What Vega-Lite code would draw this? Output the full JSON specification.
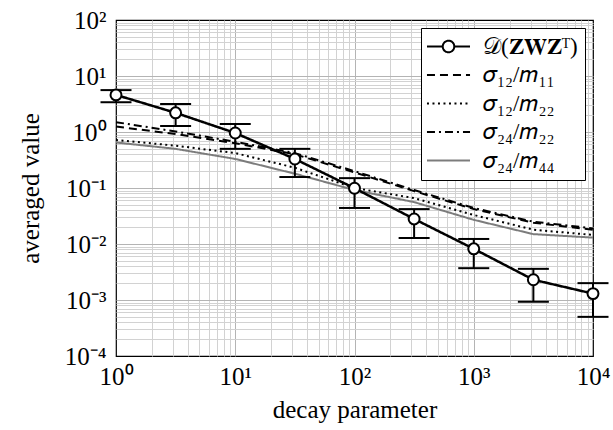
{
  "$schema": "https://vega.github.io/schema/vega-lite/v6.json",
  "width": 477,
  "height": 336,
  "autosize": "none",
  "padding": {"left": 116, "top": 20, "right": 20, "bottom": 74},
  "background": "white",
  "config": {
    "font": "Liberation Serif",
    "view": {"stroke": "black", "strokeWidth": 1.2},
    "axis": {
      "labelFont": "Liberation Serif",
      "titleFont": "Liberation Serif",
      "labelFontSize": 25,
      "titleFontSize": 25,
      "titleFontWeight": "normal",
      "labelColor": "black",
      "titleColor": "black",
      "ticks": false,
      "domain": false,
      "labelOverlap": false,
      "labelFlush": false,
      "gridWidth": 1
    },
    "legend": {
      "title": null,
      "orient": "top-right",
      "offset": 8,
      "padding": 7,
      "rowPadding": 4.5,
      "labelFont": "Liberation Serif",
      "labelFontSize": 23,
      "labelColor": "black",
      "labelLimit": 0,
      "symbolType": "M-2.05,0H2.05",
      "symbolSize": 441,
      "symbolStrokeWidth": 2,
      "symbolOffset": 9,
      "labelOffset": 23,
      "strokeColor": "black",
      "fillColor": "white",
      "cornerRadius": 0
    }
  },
  "datasets": {
    "curves": [
      {"x": 1, "series": "𝜎₁₂/𝑚₁₁", "y": 1.25},
      {"x": 3.162, "series": "𝜎₁₂/𝑚₁₁", "y": 0.92},
      {"x": 10, "series": "𝜎₁₂/𝑚₁₁", "y": 0.63},
      {"x": 31.62, "series": "𝜎₁₂/𝑚₁₁", "y": 0.4},
      {"x": 100, "series": "𝜎₁₂/𝑚₁₁", "y": 0.19},
      {"x": 316.2, "series": "𝜎₁₂/𝑚₁₁", "y": 0.088},
      {"x": 1000, "series": "𝜎₁₂/𝑚₁₁", "y": 0.042},
      {"x": 3162, "series": "𝜎₁₂/𝑚₁₁", "y": 0.024},
      {"x": 10000, "series": "𝜎₁₂/𝑚₁₁", "y": 0.018},
      {"x": 1, "series": "𝜎₁₂/𝑚₂₂", "y": 0.72},
      {"x": 3.162, "series": "𝜎₁₂/𝑚₂₂", "y": 0.57},
      {"x": 10, "series": "𝜎₁₂/𝑚₂₂", "y": 0.42},
      {"x": 31.62, "series": "𝜎₁₂/𝑚₂₂", "y": 0.23},
      {"x": 100, "series": "𝜎₁₂/𝑚₂₂", "y": 0.1},
      {"x": 316.2, "series": "𝜎₁₂/𝑚₂₂", "y": 0.066},
      {"x": 1000, "series": "𝜎₁₂/𝑚₂₂", "y": 0.033},
      {"x": 3162, "series": "𝜎₁₂/𝑚₂₂", "y": 0.018},
      {"x": 10000, "series": "𝜎₁₂/𝑚₂₂", "y": 0.0145},
      {"x": 1, "series": "𝜎₂₄/𝑚₂₂", "y": 1.5},
      {"x": 3.162, "series": "𝜎₂₄/𝑚₂₂", "y": 1.02},
      {"x": 10, "series": "𝜎₂₄/𝑚₂₂", "y": 0.67},
      {"x": 31.62, "series": "𝜎₂₄/𝑚₂₂", "y": 0.42},
      {"x": 100, "series": "𝜎₂₄/𝑚₂₂", "y": 0.2},
      {"x": 316.2, "series": "𝜎₂₄/𝑚₂₂", "y": 0.092},
      {"x": 1000, "series": "𝜎₂₄/𝑚₂₂", "y": 0.044},
      {"x": 3162, "series": "𝜎₂₄/𝑚₂₂", "y": 0.025},
      {"x": 10000, "series": "𝜎₂₄/𝑚₂₂", "y": 0.019},
      {"x": 1, "series": "𝜎₂₄/𝑚₄₄", "y": 0.65},
      {"x": 3.162, "series": "𝜎₂₄/𝑚₄₄", "y": 0.5},
      {"x": 10, "series": "𝜎₂₄/𝑚₄₄", "y": 0.33},
      {"x": 31.62, "series": "𝜎₂₄/𝑚₄₄", "y": 0.18},
      {"x": 100, "series": "𝜎₂₄/𝑚₄₄", "y": 0.092},
      {"x": 316.2, "series": "𝜎₂₄/𝑚₄₄", "y": 0.056},
      {"x": 1000, "series": "𝜎₂₄/𝑚₄₄", "y": 0.027},
      {"x": 3162, "series": "𝜎₂₄/𝑚₄₄", "y": 0.015},
      {"x": 10000, "series": "𝜎₂₄/𝑚₄₄", "y": 0.013}
    ],
    "dpts": [
      {"x": 1, "series": "𝒟(𝐙𝐖𝐙ᵀ)", "y": 4.6, "lo": 3.4, "hi": 5.6},
      {"x": 3.162, "series": "𝒟(𝐙𝐖𝐙ᵀ)", "y": 2.2, "lo": 1.28, "hi": 3.16},
      {"x": 10, "series": "𝒟(𝐙𝐖𝐙ᵀ)", "y": 0.96, "lo": 0.5, "hi": 1.39},
      {"x": 31.62, "series": "𝒟(𝐙𝐖𝐙ᵀ)", "y": 0.33, "lo": 0.157, "hi": 0.5},
      {"x": 100, "series": "𝒟(𝐙𝐖𝐙ᵀ)", "y": 0.099, "lo": 0.044, "hi": 0.15},
      {"x": 316.2, "series": "𝒟(𝐙𝐖𝐙ᵀ)", "y": 0.028, "lo": 0.0128, "hi": 0.042},
      {"x": 1000, "series": "𝒟(𝐙𝐖𝐙ᵀ)", "y": 0.0082, "lo": 0.0037, "hi": 0.0123},
      {"x": 3162, "series": "𝒟(𝐙𝐖𝐙ᵀ)", "y": 0.0023, "lo": 0.00093, "hi": 0.0036},
      {"x": 10000, "series": "𝒟(𝐙𝐖𝐙ᵀ)", "y": 0.0013, "lo": 0.0005, "hi": 0.002}
    ]
  },
  "encoding": {
    "x": {
      "field": "x",
      "type": "quantitative",
      "scale": {"type": "log", "domain": [1, 10000], "nice": false},
      "axis": {
        "title": "decay parameter",
        "values": [1, 2, 3, 4, 5, 6, 7, 8, 9, 10, 20, 30, 40, 50, 60, 70, 80, 90, 100, 200, 300, 400, 500, 600, 700, 800, 900, 1000, 2000, 3000, 4000, 5000, 6000, 7000, 8000, 9000, 10000],
        "labelExpr": "abs(log(datum.value)/LN10 - round(log(datum.value)/LN10)) < 0.001 ? '10' + ['⁰','¹','²','³','⁴'][round(log(datum.value)/LN10)] : ''",
        "labelPadding": 8,
        "titlePadding": 8,
        "gridColor": {"condition": {"test": "abs(log(datum.value)/LN10 - round(log(datum.value)/LN10)) < 0.001", "value": "#b4b4b4"}, "value": "#d2d2d2"},
        "gridOpacity": {"condition": {"test": "datum.value <= 1.0001 || datum.value >= 9999", "value": 0}, "value": 1}
      }
    }
  },
  "layer": [
    {
      "data": {"name": "curves"},
      "mark": {"type": "line", "strokeWidth": 2},
      "encoding": {
        "y": {
          "field": "y",
          "type": "quantitative",
          "scale": {"type": "log", "domain": [0.0001, 100], "nice": false},
          "axis": {
            "title": "averaged value",
            "values": [0.0001, 0.0002, 0.0003, 0.0004, 0.0005, 0.0006, 0.0007, 0.0008, 0.0009, 0.001, 0.002, 0.003, 0.004, 0.005, 0.006, 0.007, 0.008, 0.009, 0.01, 0.02, 0.03, 0.04, 0.05, 0.06, 0.07, 0.08, 0.09, 0.1, 0.2, 0.3, 0.4, 0.5, 0.6, 0.7, 0.8, 0.9, 1, 2, 3, 4, 5, 6, 7, 8, 9, 10, 20, 30, 40, 50, 60, 70, 80, 90, 100],
            "labelExpr": "abs(log(datum.value)/LN10 - round(log(datum.value)/LN10)) < 0.001 ? '10' + ['⁻⁴','⁻³','⁻²','⁻¹','⁰','¹','²'][round(log(datum.value)/LN10)+4] : ''",
            "labelPadding": 10,
            "titlePadding": 21,
            "gridColor": {"condition": {"test": "abs(log(datum.value)/LN10 - round(log(datum.value)/LN10)) < 0.001", "value": "#b4b4b4"}, "value": "#d2d2d2"},
            "gridOpacity": {"condition": {"test": "datum.value <= 0.000100001 || datum.value >= 99.99", "value": 0}, "value": 1}
          }
        },
        "color": {
          "field": "series",
          "type": "nominal",
          "scale": {
            "domain": ["𝒟(𝐙𝐖𝐙ᵀ)", "𝜎₁₂/𝑚₁₁", "𝜎₁₂/𝑚₂₂", "𝜎₂₄/𝑚₂₂", "𝜎₂₄/𝑚₄₄"],
            "range": ["black", "black", "black", "black", "#7c7c7c"]
          },
          "legend": {
            "encode": {
              "symbols": {
                "update": {
                  "shape": {"signal": "datum.index === 0 ? 'M-2.05,0H-0.55M0.55,0H2.05M0.55,0A0.55,0.55,0,1,1,-0.55,0A0.55,0.55,0,1,1,0.55,0' : 'M-2.05,0H2.05'"},
                  "fill": {"signal": "datum.index === 0 ? 'white' : 'transparent'"}
                }
              }
            }
          }
        },
        "strokeDash": {
          "field": "series",
          "type": "nominal",
          "scale": {
            "domain": ["𝒟(𝐙𝐖𝐙ᵀ)", "𝜎₁₂/𝑚₁₁", "𝜎₁₂/𝑚₂₂", "𝜎₂₄/𝑚₂₂", "𝜎₂₄/𝑚₄₄"],
            "range": [[1, 0], [8, 5], [2, 3.5], [8, 4, 2, 4], [1, 0]]
          },
          "legend": {
            "encode": {
              "symbols": {
                "update": {
                  "shape": {"signal": "datum.index === 0 ? 'M-2.05,0H-0.55M0.55,0H2.05M0.55,0A0.55,0.55,0,1,1,-0.55,0A0.55,0.55,0,1,1,0.55,0' : 'M-2.05,0H2.05'"},
                  "fill": {"signal": "datum.index === 0 ? 'white' : 'transparent'"}
                }
              }
            }
          }
        }
      }
    },
    {
      "data": {"name": "dpts"},
      "mark": {"type": "rule", "strokeWidth": 2, "color": "black"},
      "encoding": {
        "y": {
          "field": "lo",
          "type": "quantitative",
          "scale": {"type": "log", "domain": [0.0001, 100], "nice": false},
          "axis": {
            "title": "averaged value",
            "values": [0.0001, 0.0002, 0.0003, 0.0004, 0.0005, 0.0006, 0.0007, 0.0008, 0.0009, 0.001, 0.002, 0.003, 0.004, 0.005, 0.006, 0.007, 0.008, 0.009, 0.01, 0.02, 0.03, 0.04, 0.05, 0.06, 0.07, 0.08, 0.09, 0.1, 0.2, 0.3, 0.4, 0.5, 0.6, 0.7, 0.8, 0.9, 1, 2, 3, 4, 5, 6, 7, 8, 9, 10, 20, 30, 40, 50, 60, 70, 80, 90, 100],
            "labelExpr": "abs(log(datum.value)/LN10 - round(log(datum.value)/LN10)) < 0.001 ? '10' + ['⁻⁴','⁻³','⁻²','⁻¹','⁰','¹','²'][round(log(datum.value)/LN10)+4] : ''",
            "labelPadding": 10,
            "titlePadding": 21,
            "gridColor": {"condition": {"test": "abs(log(datum.value)/LN10 - round(log(datum.value)/LN10)) < 0.001", "value": "#b4b4b4"}, "value": "#d2d2d2"},
            "gridOpacity": {"condition": {"test": "datum.value <= 0.000100001 || datum.value >= 99.99", "value": 0}, "value": 1}
          }
        },
        "y2": {"field": "hi"}
      }
    },
    {
      "data": {"name": "dpts"},
      "mark": {"type": "tick", "orient": "horizontal", "size": 31, "thickness": 2, "color": "black", "opacity": 1},
      "encoding": {
        "y": {
          "field": "lo",
          "type": "quantitative",
          "scale": {"type": "log", "domain": [0.0001, 100], "nice": false},
          "axis": {
            "title": "averaged value",
            "values": [0.0001, 0.0002, 0.0003, 0.0004, 0.0005, 0.0006, 0.0007, 0.0008, 0.0009, 0.001, 0.002, 0.003, 0.004, 0.005, 0.006, 0.007, 0.008, 0.009, 0.01, 0.02, 0.03, 0.04, 0.05, 0.06, 0.07, 0.08, 0.09, 0.1, 0.2, 0.3, 0.4, 0.5, 0.6, 0.7, 0.8, 0.9, 1, 2, 3, 4, 5, 6, 7, 8, 9, 10, 20, 30, 40, 50, 60, 70, 80, 90, 100],
            "labelExpr": "abs(log(datum.value)/LN10 - round(log(datum.value)/LN10)) < 0.001 ? '10' + ['⁻⁴','⁻³','⁻²','⁻¹','⁰','¹','²'][round(log(datum.value)/LN10)+4] : ''",
            "labelPadding": 10,
            "titlePadding": 21,
            "gridColor": {"condition": {"test": "abs(log(datum.value)/LN10 - round(log(datum.value)/LN10)) < 0.001", "value": "#b4b4b4"}, "value": "#d2d2d2"},
            "gridOpacity": {"condition": {"test": "datum.value <= 0.000100001 || datum.value >= 99.99", "value": 0}, "value": 1}
          }
        }
      }
    },
    {
      "data": {"name": "dpts"},
      "mark": {"type": "tick", "orient": "horizontal", "size": 31, "thickness": 2, "color": "black", "opacity": 1},
      "encoding": {
        "y": {
          "field": "hi",
          "type": "quantitative",
          "scale": {"type": "log", "domain": [0.0001, 100], "nice": false},
          "axis": {
            "title": "averaged value",
            "values": [0.0001, 0.0002, 0.0003, 0.0004, 0.0005, 0.0006, 0.0007, 0.0008, 0.0009, 0.001, 0.002, 0.003, 0.004, 0.005, 0.006, 0.007, 0.008, 0.009, 0.01, 0.02, 0.03, 0.04, 0.05, 0.06, 0.07, 0.08, 0.09, 0.1, 0.2, 0.3, 0.4, 0.5, 0.6, 0.7, 0.8, 0.9, 1, 2, 3, 4, 5, 6, 7, 8, 9, 10, 20, 30, 40, 50, 60, 70, 80, 90, 100],
            "labelExpr": "abs(log(datum.value)/LN10 - round(log(datum.value)/LN10)) < 0.001 ? '10' + ['⁻⁴','⁻³','⁻²','⁻¹','⁰','¹','²'][round(log(datum.value)/LN10)+4] : ''",
            "labelPadding": 10,
            "titlePadding": 21,
            "gridColor": {"condition": {"test": "abs(log(datum.value)/LN10 - round(log(datum.value)/LN10)) < 0.001", "value": "#b4b4b4"}, "value": "#d2d2d2"},
            "gridOpacity": {"condition": {"test": "datum.value <= 0.000100001 || datum.value >= 99.99", "value": 0}, "value": 1}
          }
        }
      }
    },
    {
      "data": {"name": "dpts"},
      "mark": {"type": "line", "strokeWidth": 2.5},
      "encoding": {
        "y": {
          "field": "y",
          "type": "quantitative",
          "scale": {"type": "log", "domain": [0.0001, 100], "nice": false},
          "axis": {
            "title": "averaged value",
            "values": [0.0001, 0.0002, 0.0003, 0.0004, 0.0005, 0.0006, 0.0007, 0.0008, 0.0009, 0.001, 0.002, 0.003, 0.004, 0.005, 0.006, 0.007, 0.008, 0.009, 0.01, 0.02, 0.03, 0.04, 0.05, 0.06, 0.07, 0.08, 0.09, 0.1, 0.2, 0.3, 0.4, 0.5, 0.6, 0.7, 0.8, 0.9, 1, 2, 3, 4, 5, 6, 7, 8, 9, 10, 20, 30, 40, 50, 60, 70, 80, 90, 100],
            "labelExpr": "abs(log(datum.value)/LN10 - round(log(datum.value)/LN10)) < 0.001 ? '10' + ['⁻⁴','⁻³','⁻²','⁻¹','⁰','¹','²'][round(log(datum.value)/LN10)+4] : ''",
            "labelPadding": 10,
            "titlePadding": 21,
            "gridColor": {"condition": {"test": "abs(log(datum.value)/LN10 - round(log(datum.value)/LN10)) < 0.001", "value": "#b4b4b4"}, "value": "#d2d2d2"},
            "gridOpacity": {"condition": {"test": "datum.value <= 0.000100001 || datum.value >= 99.99", "value": 0}, "value": 1}
          }
        },
        "color": {
          "field": "series",
          "type": "nominal",
          "scale": {
            "domain": ["𝒟(𝐙𝐖𝐙ᵀ)", "𝜎₁₂/𝑚₁₁", "𝜎₁₂/𝑚₂₂", "𝜎₂₄/𝑚₂₂", "𝜎₂₄/𝑚₄₄"],
            "range": ["black", "black", "black", "black", "#7c7c7c"]
          },
          "legend": {
            "encode": {
              "symbols": {
                "update": {
                  "shape": {"signal": "datum.index === 0 ? 'M-2.05,0H-0.55M0.55,0H2.05M0.55,0A0.55,0.55,0,1,1,-0.55,0A0.55,0.55,0,1,1,0.55,0' : 'M-2.05,0H2.05'"},
                  "fill": {"signal": "datum.index === 0 ? 'white' : 'transparent'"}
                }
              }
            }
          }
        },
        "strokeDash": {
          "field": "series",
          "type": "nominal",
          "scale": {
            "domain": ["𝒟(𝐙𝐖𝐙ᵀ)", "𝜎₁₂/𝑚₁₁", "𝜎₁₂/𝑚₂₂", "𝜎₂₄/𝑚₂₂", "𝜎₂₄/𝑚₄₄"],
            "range": [[1, 0], [8, 5], [2, 3.5], [8, 4, 2, 4], [1, 0]]
          },
          "legend": {
            "encode": {
              "symbols": {
                "update": {
                  "shape": {"signal": "datum.index === 0 ? 'M-2.05,0H-0.55M0.55,0H2.05M0.55,0A0.55,0.55,0,1,1,-0.55,0A0.55,0.55,0,1,1,0.55,0' : 'M-2.05,0H2.05'"},
                  "fill": {"signal": "datum.index === 0 ? 'white' : 'transparent'"}
                }
              }
            }
          }
        }
      }
    },
    {
      "data": {"name": "dpts"},
      "mark": {"type": "point", "shape": "circle", "filled": true, "fill": "white", "stroke": "black", "strokeWidth": 2, "size": 120, "opacity": 1},
      "encoding": {
        "y": {
          "field": "y",
          "type": "quantitative",
          "scale": {"type": "log", "domain": [0.0001, 100], "nice": false},
          "axis": {
            "title": "averaged value",
            "values": [0.0001, 0.0002, 0.0003, 0.0004, 0.0005, 0.0006, 0.0007, 0.0008, 0.0009, 0.001, 0.002, 0.003, 0.004, 0.005, 0.006, 0.007, 0.008, 0.009, 0.01, 0.02, 0.03, 0.04, 0.05, 0.06, 0.07, 0.08, 0.09, 0.1, 0.2, 0.3, 0.4, 0.5, 0.6, 0.7, 0.8, 0.9, 1, 2, 3, 4, 5, 6, 7, 8, 9, 10, 20, 30, 40, 50, 60, 70, 80, 90, 100],
            "labelExpr": "abs(log(datum.value)/LN10 - round(log(datum.value)/LN10)) < 0.001 ? '10' + ['⁻⁴','⁻³','⁻²','⁻¹','⁰','¹','²'][round(log(datum.value)/LN10)+4] : ''",
            "labelPadding": 10,
            "titlePadding": 21,
            "gridColor": {"condition": {"test": "abs(log(datum.value)/LN10 - round(log(datum.value)/LN10)) < 0.001", "value": "#b4b4b4"}, "value": "#d2d2d2"},
            "gridOpacity": {"condition": {"test": "datum.value <= 0.000100001 || datum.value >= 99.99", "value": 0}, "value": 1}
          }
        }
      }
    }
  ]
}
